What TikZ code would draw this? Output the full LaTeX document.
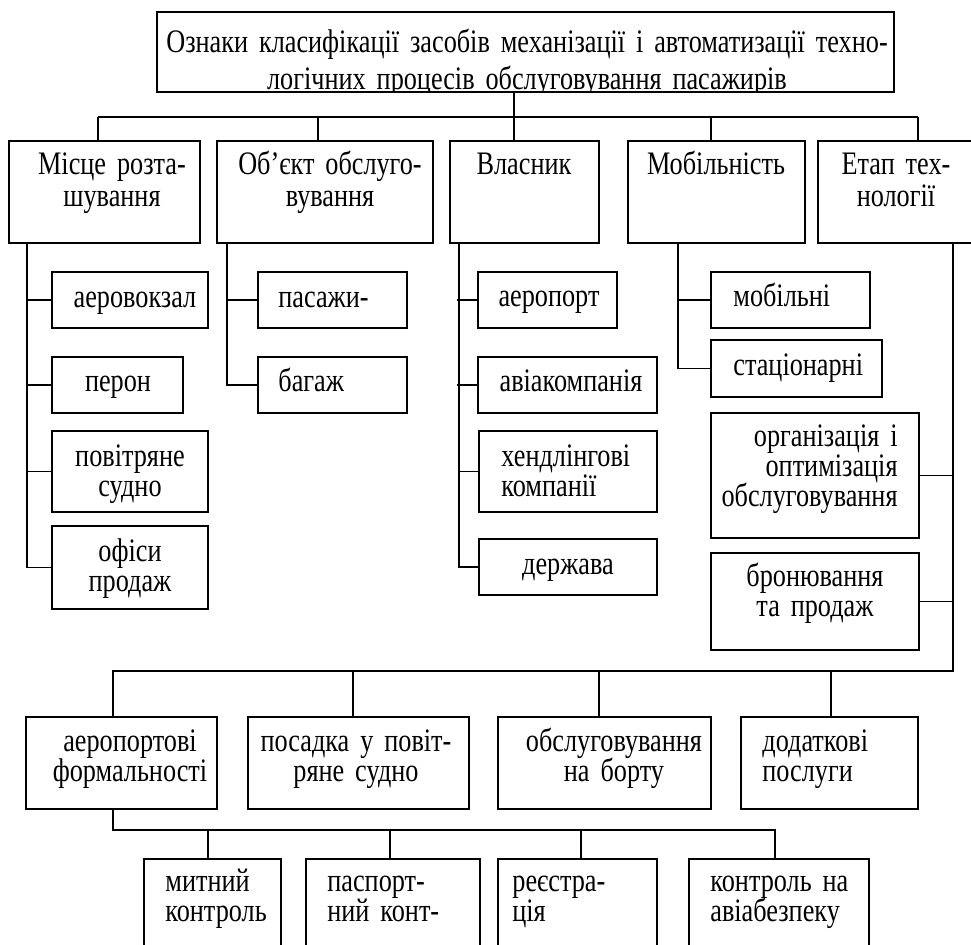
\documentclass[tikz,border=0pt]{standalone}
\usepackage{fontspec}
\setmainfont{Liberation Serif}[FakeStretch=0.8]
\usetikzlibrary{fit,calc}

\newcommand\fsz[1][14.8]{\fontsize{16.4}{#1}\selectfont\spaceskip=0.2em\lineskip=0pt\lineskiplimit=-20pt}

\begin{document}
\begin{tikzpicture}[x=0.5pt,y=-0.5pt,
  blk/.style={draw,line width=1pt,inner sep=0pt},
  wire/.style={line width=0.9pt},
  txt/.style={font=\fsz,inner sep=0pt,text width=#1,align=center,anchor=base},
  txt/.default=110pt,
  ltxt/.style={font=\fsz,inner sep=0pt,text width=100pt,align=left,anchor=base west},
  rtxt/.style={font=\fsz,inner sep=0pt,text width=100pt,align=right,anchor=base east}]
  \useasboundingbox (0,0) rectangle (971,945);
  \clip (0,0) rectangle (971,945);

  % all boxes (corners in pixels, y downwards)
  \foreach \n/\a/\b/\c/\d in {top/157/12/894/92,
      loc/9/141/200/243, obj/217/141/433/243, own/450/141/599/243,
      mob/628/141/805/243, stg/818/141/975/243,
      l1/52/272/208/328, l2/52/357/183/413, l3/52/431/208/512, l4/52/526/208/609,
      o1/258/272/407/328, o2/258/357/407/413,
      w1/478/272/617/328, w2/478/357/657/413, w3/479/431/657/512, w4/479/539/657/595,
      m1/711/272/870/328, m2/711/340/882/397,
      s1/711/413/919/538, s2/711/553/919/650,
      f1/26/717/217/809, f2/248/717/469/809, f3/498/717/711/809, f4/741/717/918/809,
      b1/144/859/281/970, b2/306/859/480/970, b3/498/859/657/970, b4/689/859/869/970}
    \node[blk,fit={(\a,\b) (\c,\d)}] (\n) {};

  % heading, its last line runs under the frame
  \begin{scope}
    \clip (top.north west) rectangle (top.south east);
    \node[txt=380pt,font={\fsz[18.5]}] (top-t) at (527,53)
      {Ознаки класифікації засобів механізації і автоматизації техно-\\логічних процесів обслуговування пасажирів};
  \end{scope}

  % first level
  \node[txt,font={\fsz[16]}] (loc-t) at (112,175) {Місце розта-\\шування};
  \node[txt,font={\fsz[16]}] (obj-t) at (330,175) {Об’єкт обслуго-\\вування};
  \node[txt] (own-t) at (524,175) {Власник};
  \node[txt] (mob-t) at (716,175) {Мобільність};
  \node[txt,font={\fsz[16]}] (stg-t) at (896,175) {Етап тех-\\нології};

  \draw[wire] ($(top.south)+(-11.5,0)$) -- ($(own.north)+(-10.5,0)$);
  \draw[wire] ($(loc.north)+(-6.5,-23)$) -- ($(stg.north)+(21.5,-23)$);
  \foreach \n/\dx in {loc/-6.5, obj/-7, mob/-5.5, stg/21.5}
    \draw[wire] ($(\n.north)+(\dx,0)$) -- ++(0,-23);

  % second level
  \node[txt] (l1-t) at (135,308) {аеровокзал};
  \node[txt] (l2-t) at (118,392) {перон};
  \node[txt] (l3-t) at (130,467) {повітряне\\судно};
  \node[txt] (l4-t) at (130,562) {офіси\\продаж};
  \node[ltxt] (o1-t) at (278,308) {пасажи-};
  \node[ltxt] (o2-t) at (278,392) {багаж};
  \node[txt] (w1-t) at (549,307) {аеропорт};
  \node[txt] (w2-t) at (571,392) {авіакомпанія};
  \node[ltxt] (w3-t) at (501,467) {хендлінгові\\компанії};
  \node[txt] (w4-t) at (568,575) {держава};
  \node[ltxt] (m1-t) at (733,307) {мобільні};
  \node[ltxt] (m2-t) at (733,376) {стаціонарні};
  \node[rtxt] (s1-t) at (898,447) {організація і\\оптимізація\\обслуговування};
  \node[txt] (s2-t) at (815,587) {бронювання\\та продаж};

  \draw[wire] (l4.west) -| ($(loc.south)+(-77.5,0)$);
  \foreach \c in {l1,l2,l3} \draw[wire] (\c.west) -- ++(-25,0);
  \draw[wire] (o2.west) -| ($(obj.south)+(-98,0)$);
  \draw[wire] (o1.west) -- ++(-31,0);
  \draw[wire] (w4.west) -| ($(own.south)+(-65.5,0)$);
  \foreach \c in {w1,w2,w3} \draw[wire] (\c.west) -- ++(-20,0);
  \draw[wire] (m2.west) -| ($(mob.south)+(-38.5,0)$);
  \draw[wire] (m1.west) -- ++(-33,0);
  \foreach \c in {s1,s2} \draw[wire] (\c.east) -- ++(34,0);

  % stages of the technology
  \node[txt] (f1-t) at (130,752) {аеропортові\\формальності};
  \node[txt] (f2-t) at (356,752) {посадка у повіт-\\ряне судно};
  \node[txt] (f3-t) at (614,752) {обслуговування\\на борту};
  \node[ltxt] (f4-t) at (762,752) {додаткові\\послуги};

  \draw[wire] ($(stg.south)+(56.5,0)$) |- ($(f1.north)+(-8.5,-45)$) -- ($(f1.north)+(-8.5,0)$);
  \foreach \c/\dx in {f2/-5.5, f3/-5.5, f4/1.5}
    \draw[wire] ($(\c.north)+(\dx,0)$) -- ++(0,-45);

  % airport formalities
  \node[ltxt] (b1-t) at (165,892) {митний\\контроль};
  \node[ltxt] (b2-t) at (327,892) {паспорт-\\ний конт-};
  \node[ltxt] (b3-t) at (512,892) {реєстра-\\ція};
  \node[ltxt] (b4-t) at (710,892) {контроль на\\авіабезпеку};

  \draw[wire] ($(f1.south)+(-8.5,0)$) |- ($(b4.north)+(-4,-28)$) -- ($(b4.north)+(-4,0)$);
  \foreach \c/\dx in {b1/-4.5, b2/-3, b3/3.5}
    \draw[wire] ($(\c.north)+(\dx,0)$) -- ++(0,-28);
\end{tikzpicture}
\end{document}
